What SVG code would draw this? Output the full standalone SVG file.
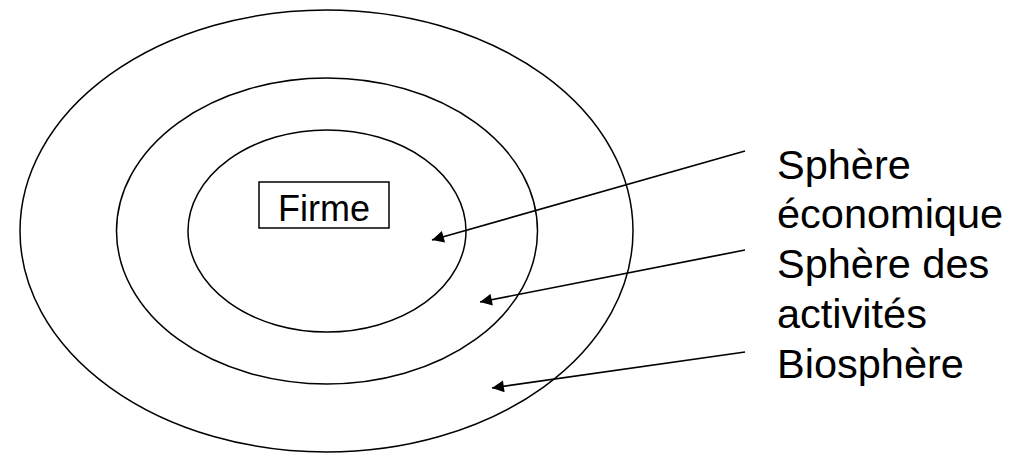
<svg xmlns="http://www.w3.org/2000/svg" width="1015" height="453" viewBox="0 0 1015 453">
  <style>
    .ring { fill: none; stroke: #000; stroke-width: 1.5; }
    .box { fill: #fff; stroke: #000; stroke-width: 1.5; }
    .lbl { font-family: "Liberation Sans", Arial, sans-serif; fill: #000; }
    .arrow { fill: none; stroke: #000; stroke-width: 1.7; marker-end: url(#head); }
  </style>
  <defs>
    <marker id="head" viewBox="0 0 10 10" refX="10" refY="5" markerWidth="9" markerHeight="7" markerUnits="strokeWidth" orient="auto">
      <path d="M0,0 L10,5 L0,10 z" fill="#000"/>
    </marker>
  </defs>

  <!-- Concentric spheres -->
  <g id="biosphere">
    <ellipse class="ring" cx="326.5" cy="231" rx="306.5" ry="221"/>
  </g>
  <g id="sphere-activites">
    <ellipse class="ring" cx="327" cy="231" rx="210.5" ry="153"/>
  </g>
  <g id="sphere-economique">
    <ellipse class="ring" cx="327" cy="231" rx="139" ry="101"/>
  </g>

  <!-- Firm at the centre -->
  <g id="firme">
    <rect class="box" x="259" y="182" width="130" height="46"/>
    <text class="lbl" x="324" y="221" font-size="36" text-anchor="middle">Firme</text>
  </g>

  <!-- Pointers from the labels to each sphere -->
  <g id="connectors">
    <line class="arrow" x1="745" y1="151" x2="432" y2="240"/>
    <line class="arrow" x1="745" y1="250" x2="480" y2="302"/>
    <line class="arrow" x1="745" y1="352" x2="492" y2="388"/>
  </g>

  <!-- Labels -->
  <g id="labels" class="lbl" font-size="41.5">
    <text x="777" y="179">Sphère</text>
    <text x="777" y="228">économique</text>
    <text x="777" y="278">Sphère des</text>
    <text x="777" y="328">activités</text>
    <text x="777" y="378">Biosphère</text>
  </g>
</svg>
